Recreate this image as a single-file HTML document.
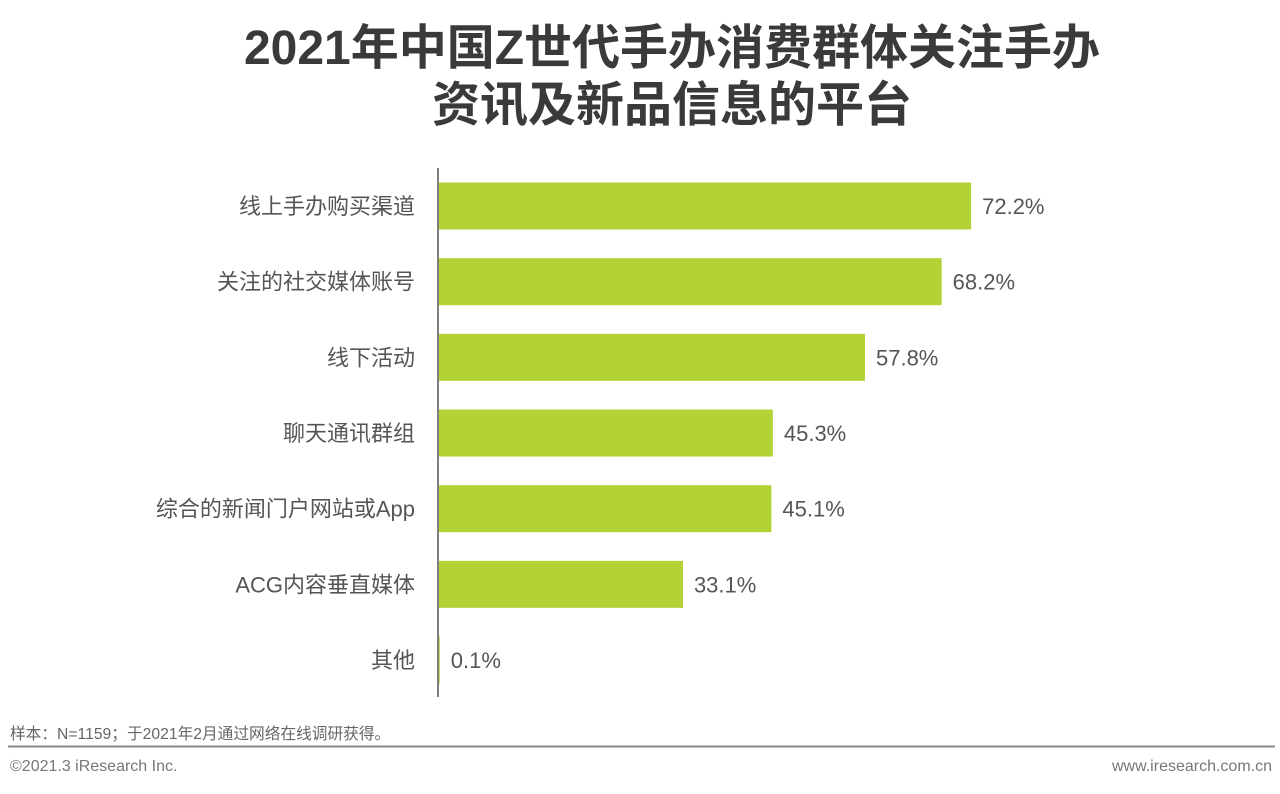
<!DOCTYPE html>
<html><head><meta charset="utf-8">
<style>
body{margin:0;width:1280px;height:789px;background:#fff;overflow:hidden;font-family:"Liberation Sans","Noto Sans CJK SC",sans-serif;}
</style></head>
<body>
<svg width="1280" height="789" xmlns="http://www.w3.org/2000/svg">
<g font-family="Liberation Sans, Noto Sans CJK SC, sans-serif">
<text x="672" y="64" text-anchor="middle" font-size="48" font-weight="bold" fill="#3a3a3a">2021年中国Z世代手办消费群体关注手办</text>
<text x="672" y="121" text-anchor="middle" font-size="48" font-weight="bold" fill="#3a3a3a">资讯及新品信息的平台</text>
<g id="bars"></g>
<line x1="438" y1="168" x2="438" y2="697" stroke="#7f7f7f" stroke-width="2"/>
<text x="10" y="739" font-size="15.7" fill="#666">样本：N=1159；于2021年2月通过网络在线调研获得。</text>
<line x1="8" y1="746.5" x2="1275" y2="746.5" stroke="#888" stroke-width="2"/>
<text x="10" y="771" font-size="16" fill="#777">©2021.3 iResearch Inc.</text>
<text x="1272" y="771" text-anchor="end" font-size="16" fill="#777">www.iresearch.com.cn</text>
</g>
</svg>
<script>
const categories=["线上手办购买渠道","关注的社交媒体账号","线下活动","聊天通讯群组","综合的新闻门户网站或App","ACG内容垂直媒体","其他"];
const values=[72.2,68.2,57.8,45.3,45.1,33.1,0.1];
const valueLabels=["72.2%","68.2%","57.8%","45.3%","45.1%","33.1%","0.1%"];
const ns="http://www.w3.org/2000/svg";
const x0=439,pxPer=7.37,y0=206,step=75.67,bh=47;
const xs=v=>x0+v*pxPer, ys=i=>y0+i*step;
const g=document.getElementById('bars');
categories.forEach((c,i)=>{
  const yc=ys(i);
  const r=document.createElementNS(ns,'rect');
  
  
  r.setAttribute('x',x0);r.setAttribute('y',yc-bh/2);
  r.setAttribute('width',Math.max(0,xs(values[i])-x0));r.setAttribute('height',bh);
  r.setAttribute('fill','#b2d235');g.appendChild(r);
  const t=document.createElementNS(ns,'text');
  
  
  t.setAttribute('x',415);t.setAttribute('y',yc+8);t.setAttribute('text-anchor','end');
  t.setAttribute('font-size','22');t.setAttribute('fill','#555');t.textContent=c;g.appendChild(t);
  const v=document.createElementNS(ns,'text');
  
  
  v.setAttribute('x',xs(values[i])+11);v.setAttribute('y',yc+8);
  v.setAttribute('font-size','22');v.setAttribute('fill','#555');v.textContent=valueLabels[i];g.appendChild(v);
});
</script>
</body></html>
